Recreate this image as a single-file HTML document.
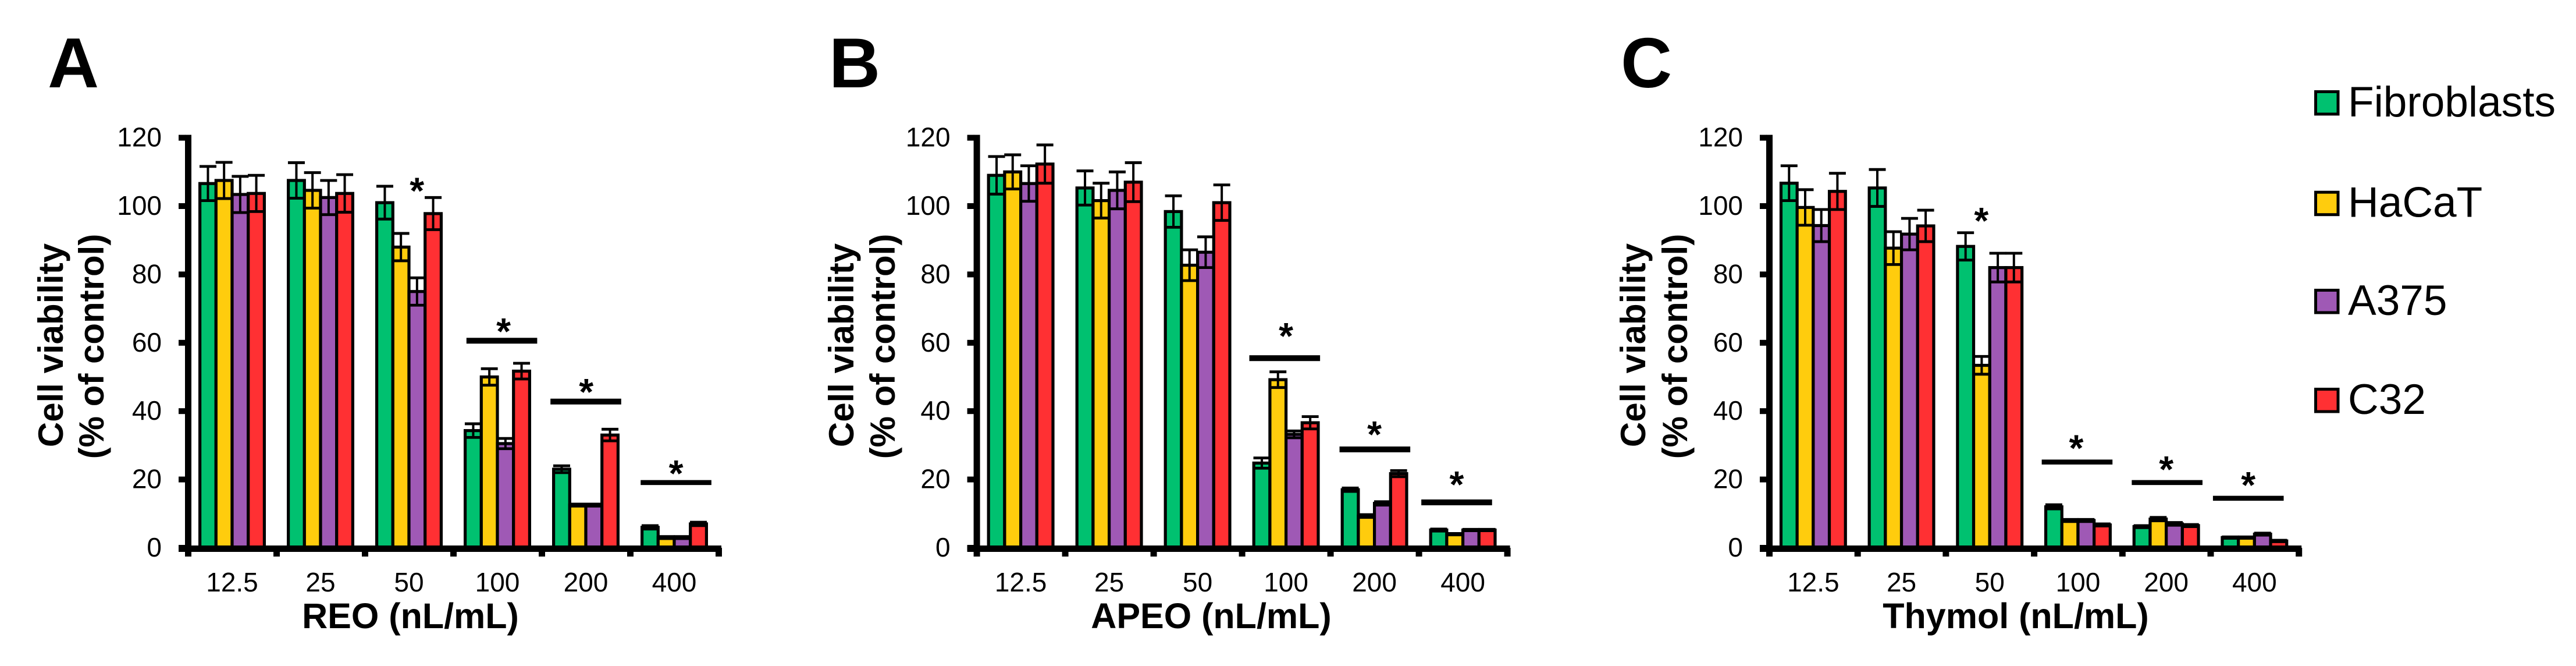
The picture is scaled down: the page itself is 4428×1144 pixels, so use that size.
<!DOCTYPE html>
<html lang="en">
<head>
<meta charset="utf-8">
<title>Cell viability charts</title>
<style>
html,body{margin:0;padding:0;background:#fff;width:4428px;height:1144px;overflow:hidden}
svg{display:block}
text{font-family:"Liberation Sans",Arial,sans-serif;fill:#000}
</style>
</head>
<body>
<svg id="figure" xmlns="http://www.w3.org/2000/svg" width="4428" height="1144" viewBox="0 0 4428 1144">
<rect x="0" y="0" width="4428" height="1144" fill="#ffffff"/>
</svg>
<script>
const categories = ["12.5", "25", "50", "100", "200", "400"];
const yTickValues = [0, 20, 40, 60, 80, 100, 120];

const reoFibroblasts = [106.6, 107.5, 101, 34.3, 23, 6];
const reoHacat = [107.5, 104.6, 88, 50, 12.5, 3];
const reoA375 = [103.4, 102.5, 75, 30.5, 12.5, 3];
const reoC32 = [103.7, 103.7, 97.8, 51.7, 33, 7];
const reoFibroblastsErr = [5, 5.2, 4.8, 2, 1, 0.5];
const reoHacatErr = [5.3, 5.2, 4, 2.4, 0.3, 0.3];
const reoA375Err = [5.3, 5, 4, 1.5, 0.3, 0.3];
const reoC32Err = [5.3, 5.5, 4.7, 2.3, 1.7, 0.5];

const apeoFibroblasts = [109, 105.3, 98.4, 24.8, 17, 5.2];
const apeoHacat = [110, 101.6, 82.7, 49.2, 9.3, 4];
const apeoA375 = [106.6, 104.6, 86.5, 33.2, 13, 5.2];
const apeoC32 = [112.3, 107, 101, 36.6, 21.7, 5.2];
const apeoFibroblastsErr = [5.5, 5, 4.6, 1.5, 0.5, 0.3];
const apeoHacatErr = [5, 5.1, 4.5, 2.3, 0.4, 0.2];
const apeoA375Err = [5.2, 5.4, 4.5, 1, 0.5, 0.2];
const apeoC32Err = [5.6, 5.7, 5.2, 1.8, 0.9, 0.2];

const thymolFibroblasts = [106.7, 105.3, 88.2, 12, 6.2, 3];
const thymolHacat = [99.6, 87.7, 53.4, 8, 8.4, 3];
const thymolA375 = [94.3, 91.8, 82, 8, 7, 4];
const thymolC32 = [104.3, 94.2, 82, 6.7, 6.5, 2];
const thymolFibroblastsErr = [5.1, 5.4, 4, 0.6, 0.3, 0.2];
const thymolHacatErr = [5.2, 4.8, 2.6, 0.3, 0.5, 0.2];
const thymolA375Err = [4.7, 4.6, 4.2, 0.3, 0.4, 0.3];
const thymolC32Err = [5.3, 4.6, 4.2, 0.3, 0.3, 0.2];

/* significance brackets: height in % viability, centre in category units */
const reoSigLevels = [60.6, 42.8, 19.1];
const reoSigCentres = [3.55, 4.5, 5.52];
const reoStarLevels = [105.5, 64.4, 46.7, 22.8];
const reoStarCentres = [2.59, 3.57, 4.505, 5.52];
const apeoSigLevels = [55.5, 28.8, 13.3];
const apeoSigCentres = [3.485, 4.505, 5.43];
const apeoStarLevels = [63, 34.2, 19.6];
const apeoStarCentres = [3.5, 4.5, 5.43];
const thymolSigLevels = [25.1, 19.1, 14.5];
const thymolSigCentres = [3.49, 4.51, 5.43];
const thymolStarLevels = [96.8, 30.2, 24, 19.4];
const thymolStarCentres = [2.405, 3.48, 4.5, 5.43];

const seriesColors = ["#00C170", "#FFCC0D", "#9F59B5", "#FF3033"];
const legendLabels = ["Fibroblasts", "HaCaT", "A375", "C32"];

const svg = document.getElementById("figure");
const NS = "http://www.w3.org/2000/svg";

function mk(tag, attrs, parent) {
  const el = document.createElementNS(NS, tag);
  for (const k in attrs) el.setAttribute(k, attrs[k]);
  (parent || svg).appendChild(el);
  return el;
}
function mkText(str, attrs, parent) {
  const el = mk("text", attrs, parent);
  el.textContent = str;
  return el;
}

const Y0 = 941, UNIT = 5.87, CAT_W = 152, BAR_W = 27.7;
function yScale(v) { return Y0 - v * UNIT; }

function drawPanel(p) {
  const g = mk("g", {});
  
  
  const xScale = c => p.left + c * p.catW;

  const letter = mkText(p.letter, {x: p.letterX, y: 150, "font-size": 122, "font-weight": "bold"}, g);
  
  

  /* bars */
  p.values.forEach((vals, s) => {
    vals.forEach((v, c) => {
      const bx = xScale(c + 0.5) + (s - 2) * BAR_W;
      const bar = mk("rect", {x: bx, y: yScale(v), width: BAR_W, height: Y0 - yScale(v), fill: seriesColors[s], stroke: "#000", "stroke-width": 5.2}, g);
      
      
    });
  });
  /* error bars */
  p.errors.forEach((errs, s) => {
    errs.forEach((e, c) => {
      const cx = xScale(c + 0.5) + (s - 1.5) * BAR_W;
      const top = yScale(p.values[s][c] + e), bot = yScale(p.values[s][c] - e);
      const eb = mk("path", {d: "M" + cx + " " + top + "V" + bot, stroke: "#000", "stroke-width": 4, fill: "none"}, g);
      
      
      const caps = mk("path", {d: "M" + (cx - 14.5) + " " + top + "H" + (cx + 14.5) + "M" + (cx - 14.5) + " " + bot + "H" + (cx + 14.5), stroke: "#000", "stroke-width": 4.8, fill: "none"}, g);
      
      
    });
  });

  /* axes */
  const yAxis = mk("rect", {x: p.left - 5, y: yScale(120) - 5, width: 11, height: Y0 + 6 - yScale(120) + 5, fill: "#000"}, g);
  
  
  const xAxis = mk("rect", {x: p.left - 16, y: Y0 - 4, width: xScale(6) - p.left + 21, height: 11, fill: "#000"}, g);
  
  

  yTickValues.forEach(t => {
    const tick = mk("rect", {x: p.left - 16, y: yScale(t) - 5, width: 12, height: 10, fill: "#000"}, g);
    
    
    const lab = mkText(String(t), {x: p.left - 45, y: yScale(t) + 15, "font-size": 46, "text-anchor": "end"}, g);
    
    
  });
  for (let i = 0; i <= categories.length; i++) {
    const tick = mk("rect", {x: xScale(i) - 5, y: Y0, width: 11, height: 15, fill: "#000"}, g);
    
    
  }
  categories.forEach((c, i) => {
    const lab = mkText(c, {x: xScale(i + 0.5), y: 1016, "font-size": 46, "text-anchor": "middle"}, g);
    
    
  });

  /* significance */
  p.sigLevels.forEach((lv, i) => {
    const cx = xScale(p.sigCentres[i]);
    const h = i === 2 && p.key === "reo" ? 8.5 : (p.key === "thymol" ? 8.5 : 10);
    const bar = mk("rect", {x: cx - 60.8, y: yScale(lv) - h / 2, width: 121.6, height: h, fill: "#000"}, g);
    
    
  });
  p.starLevels.forEach((lv, i) => {
    const star = mkText("*", {x: xScale(p.starCentres[i]), y: yScale(lv) + 28, "font-size": 64, "font-weight": "bold", "text-anchor": "middle"}, g);
    
    
  });

  /* titles */
  const xt = mkText(p.xTitle, {x: p.xTitleX, y: 1079, "font-size": 61, "font-weight": "bold", "text-anchor": "middle"}, g);
  
  
  const yt1 = mkText("Cell viability", {transform: "translate(" + p.yTitle1 + " 593) rotate(-90)", "font-size": 60, "font-weight": "bold", "text-anchor": "middle"}, g);
  
  
  const yt2 = mkText("(% of control)", {transform: "translate(" + p.yTitle2 + " 595) rotate(-90)", "font-size": 60, "font-weight": "bold", "text-anchor": "middle"}, g);
  
  
}

drawPanel({
  key: "reo", letter: "A", letterX: 82, left: 323, catW: CAT_W, xTitle: "REO (nL/mL)", xTitleX: 705.5,
  yTitle1: 108, yTitle2: 178,
  values: [reoFibroblasts, reoHacat, reoA375, reoC32],
  errors: [reoFibroblastsErr, reoHacatErr, reoA375Err, reoC32Err],
  sigLevels: reoSigLevels, sigCentres: reoSigCentres, starLevels: reoStarLevels, starCentres: reoStarCentres
});
drawPanel({
  key: "apeo", letter: "B", letterX: 1425, left: 1678.6, catW: CAT_W, xTitle: "APEO (nL/mL)", xTitleX: 2082,
  yTitle1: 1467, yTitle2: 1538,
  values: [apeoFibroblasts, apeoHacat, apeoA375, apeoC32],
  errors: [apeoFibroblastsErr, apeoHacatErr, apeoA375Err, apeoC32Err],
  sigLevels: apeoSigLevels, sigCentres: apeoSigCentres, starLevels: apeoStarLevels, starCentres: apeoStarCentres
});
drawPanel({
  key: "thymol", letter: "C", letterX: 2786, left: 3041, catW: 151.7, xTitle: "Thymol (nL/mL)", xTitleX: 3465,
  yTitle1: 2828, yTitle2: 2900,
  values: [thymolFibroblasts, thymolHacat, thymolA375, thymolC32],
  errors: [thymolFibroblastsErr, thymolHacatErr, thymolA375Err, thymolC32Err],
  sigLevels: thymolSigLevels, sigCentres: thymolSigCentres, starLevels: thymolStarLevels, starCentres: thymolStarCentres
});

/* legend */
const legend = mk("g", {});


const legendBaselines = [200, 372.7, 541, 711];
legendLabels.forEach((name, i) => {
  const base = legendBaselines[i];
  const sw = mk("rect", {x: 3980.5, y: base - 42.5, width: 38.5, height: 38.5, fill: seriesColors[i], stroke: "#000", "stroke-width": 5}, legend);
  
  
  const t = mkText(name, {x: 4036, y: base, "font-size": 73}, legend);
  
  
});
</script>
</body>
</html>
